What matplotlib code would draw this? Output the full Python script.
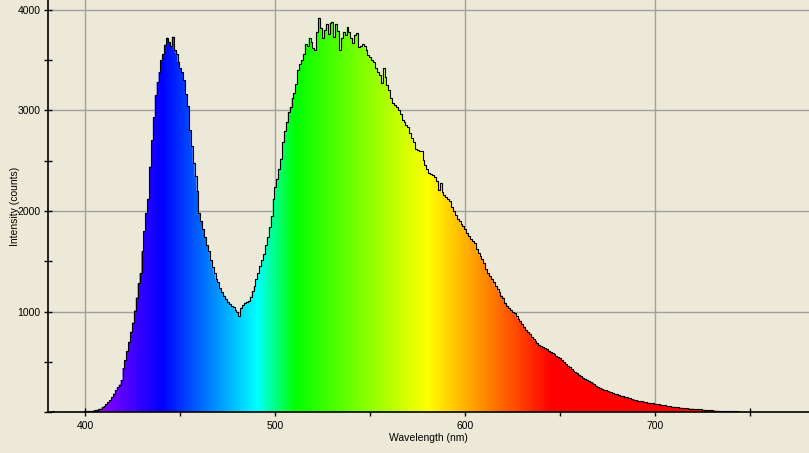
import numpy as np
import matplotlib.pyplot as plt
from matplotlib.ticker import MultipleLocator


# data, 1 nm steps from 380 to 760 nm
wavelength = np.arange(380, 761)
counts = [
    0, 0, 0, 8, 0, 6, 0, 0, 0, 0,                                   # 380
    5, 0, 7, 0, 6, 0, 4, 3, 5, 6,                                   # 390
    8, 8, 10, 14, 16, 20, 24, 28, 36, 50,                           # 400
    62, 80, 100, 120, 150, 185, 220, 250, 275, 320,                 # 410
    440, 520, 610, 700, 800, 890, 1010, 1140, 1280, 1380,           # 420
    1600, 1800, 1980, 2120, 2440, 2700, 2930, 3150, 3280, 3380,     # 430
    3500, 3560, 3650, 3720, 3680, 3640, 3730, 3600, 3560, 3480,     # 440
    3420, 3380, 3300, 3160, 3040, 2800, 2640, 2480, 2350, 2200,     # 450
    1980, 1900, 1820, 1740, 1660, 1600, 1510, 1440, 1380, 1320,     # 460
    1290, 1230, 1190, 1160, 1130, 1100, 1080, 1060, 1050, 1020,     # 470
    1000, 960, 1040, 1070, 1090, 1100, 1110, 1150, 1200, 1250,      # 480
    1320, 1380, 1450, 1510, 1570, 1660, 1740, 1840, 1950, 2120,     # 490
    2240, 2320, 2420, 2520, 2680, 2790, 2880, 2980, 3030, 3120,     # 500
    3170, 3260, 3400, 3460, 3500, 3560, 3660, 3640, 3720, 3680,     # 510
    3620, 3600, 3780, 3920, 3820, 3720, 3800, 3860, 3760, 3870,     # 520
    3880, 3730, 3860, 3790, 3600, 3720, 3780, 3750, 3830, 3780,     # 530
    3720, 3670, 3750, 3770, 3630, 3640, 3660, 3640, 3600, 3550,     # 540
    3530, 3500, 3480, 3420, 3380, 3350, 3270, 3420, 3330, 3250,     # 550
    3200, 3120, 3070, 3050, 3030, 3000, 2960, 2900, 2880, 2850,     # 560
    2830, 2770, 2720, 2680, 2620, 2610, 2600, 2600, 2510, 2460,     # 570
    2420, 2380, 2370, 2360, 2340, 2300, 2210, 2280, 2190, 2160,     # 580
    2140, 2120, 2100, 2040, 2000, 1960, 1920, 1900, 1870, 1850,     # 590
    1820, 1780, 1750, 1720, 1700, 1680, 1620, 1580, 1550, 1520,     # 600
    1480, 1420, 1380, 1350, 1320, 1290, 1250, 1220, 1190, 1160,     # 610
    1140, 1090, 1060, 1040, 1020, 1000, 990, 960, 930, 910,         # 620
    880, 850, 820, 800, 780, 750, 730, 710, 690, 670,               # 630
    660, 645, 635, 625, 610, 600, 590, 575, 560, 550,               # 640
    540, 520, 500, 480, 460, 445, 430, 415, 400, 390,               # 650
    375, 360, 345, 335, 325, 315, 300, 290, 280, 265,               # 660
    250, 245, 235, 225, 218, 210, 205, 198, 190, 183,               # 670
    178, 172, 165, 160, 155, 150, 145, 138, 130, 125,               # 680
    120, 115, 112, 108, 104, 100, 97, 94, 90, 88,                   # 690
    85, 82, 78, 75, 72, 68, 65, 62, 60, 56,                         # 700
    54, 52, 50, 47, 45, 43, 41, 39, 37, 36,                         # 710
    35, 33, 31, 30, 28, 26, 25, 23, 21, 19,                         # 720
    18, 17, 16, 15, 14, 13, 12, 12, 11, 11,                         # 730
    10, 10, 9, 8, 5, 6, 0, 4, 0, 0,                                 # 740
    0, 0, 0, 0, 0, 0, 0, 0, 0, 0,                                   # 750
    0,                                                              # 760
]

x_ticks = [400, 500, 600, 700]
y_ticks = [1000, 2000, 3000, 4000]


def spectrum_rgb(w):
    # visible spectrum colour for a wavelength in nm
    if w < 440:
        return (min(1.0, (440 - w) / 60), 0.0, 1.0)
    if w < 490:
        return (0.0, (w - 440) / 50, 1.0)
    if w < 510:
        return (0.0, 1.0, (510 - w) / 20)
    if w < 580:
        return ((w - 510) / 70, 1.0, 0.0)
    if w < 645:
        return (1.0, (645 - w) / 65, 0.0)
    return (1.0, 0.0, 0.0)


plt.rcParams["font.family"] = ["Liberation Sans", "DejaVu Sans"]

bg = "#ECE9D8"
fig = plt.figure(figsize=(8.09, 4.53), dpi=100, facecolor=bg)
ax = fig.add_axes([47.5 / 809, 40.7 / 453, 1 - 47.5 / 809, 412.3 / 453])
ax.set_facecolor(bg)

# rainbow fill clipped to the area under the curve
grad_x = np.linspace(380, 781, 802)
rgb = np.array([spectrum_rgb(w) for w in grad_x])[None, :, :]
im = ax.imshow(rgb, extent=(380, 781, 0, 4095), aspect="auto", origin="lower",
               interpolation="bilinear", zorder=1)
poly = ax.fill_between(wavelength, counts, step="mid", facecolor="none", edgecolor="none")
im.set_clip_path(poly.get_paths()[0], transform=ax.transData)

ax.step(wavelength, counts, where="mid", color="black", lw=0.8, zorder=2)

ax.set_xlim(380, 781)
ax.set_ylim(0, 4095)
ax.set_xticks(x_ticks)
ax.set_yticks(y_ticks)
ax.xaxis.set_minor_locator(MultipleLocator(50))
ax.yaxis.set_minor_locator(MultipleLocator(500))

ax.grid(True, which="major", color="#A0A0A0", lw=1.0)
ax.set_axisbelow(True)

ax.tick_params(which="both", direction="inout", length=6, width=1, colors="black",
               labelsize=7.5, pad=2)
ax.tick_params(axis="x", pad=3)

for side in ["top", "right"]:
    ax.spines[side].set_visible(False)
for side in ["left", "bottom"]:
    ax.spines[side].set_linewidth(1.2)

ax.set_xlabel("Wavelength (nm)", fontsize=7.5)
ax.set_ylabel("Intensity (counts)", fontsize=7.5)
ax.yaxis.set_label_coords(-28 / 761.5, 0.5)
ax.xaxis.set_label_coords(0.5, -20.5 / 412.3)

plt.savefig("out.png", dpi=100, facecolor=bg)
